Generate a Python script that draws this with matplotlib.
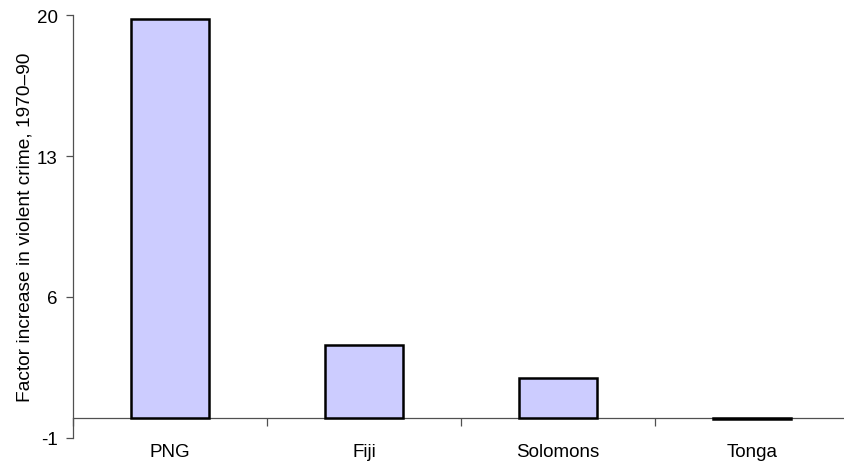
import matplotlib
matplotlib.use("Agg")
import matplotlib.pyplot as plt
import numpy as np

categories = ["PNG", "Fiji", "Solomons", "Tonga"]
values = [19.8, 3.6, 2.0, -0.05]
y_ticks = [-1, 6, 13, 20]
y_label = "Factor increase in violent crime, 1970\u201390"

plt.rcParams["font.family"] = ["Liberation Sans", "DejaVu Sans"]

W, H = 845, 464
fig = plt.figure(figsize=(W / 100, H / 100), dpi=100)
ax = fig.add_axes([73 / W, 25 / H, 776 / W, 423 / H])

x = np.arange(len(categories))
ax.bar(x, values, width=0.4, color="#CCCCFF", edgecolor="black", linewidth=1.8, zorder=3)

ax.set_xlim(-0.5, len(categories) - 0.5)
ax.set_ylim(-1, 20)

axis_color = "#505050"
for s in ("top", "right"):
    ax.spines[s].set_visible(False)
ax.spines["left"].set_color(axis_color)
ax.spines["left"].set_linewidth(0.9)
ax.spines["bottom"].set_position(("data", 0))
ax.spines["bottom"].set_color(axis_color)
ax.spines["bottom"].set_linewidth(0.9)

ax.set_yticks(y_ticks)
ax.set_yticklabels([str(t) for t in y_ticks])
ax.tick_params(axis="y", direction="out", length=5, width=0.9, color=axis_color,
               labelsize=13.5, pad=6)

# category boundaries carry the tick marks; labels sit at the centres
ax.set_xticks(np.arange(len(categories) + 1) - 0.5)
ax.set_xticklabels([])
ax.set_xticks(x, minor=True)
ax.set_xticklabels(categories, minor=True)
ax.tick_params(axis="x", which="major", direction="out", length=6, width=0.9, color=axis_color)
ax.tick_params(axis="x", which="minor", length=0, labelsize=13.5, pad=18)

ax.set_ylabel(y_label, fontsize=13.8, labelpad=2)

fig.savefig("out.png", dpi=100)
